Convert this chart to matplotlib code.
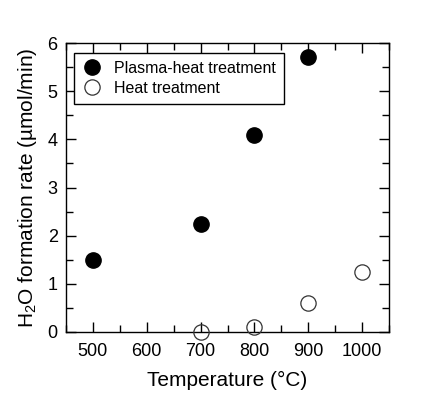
import matplotlib
matplotlib.use("Agg")
import matplotlib.pyplot as plt
from matplotlib.ticker import MultipleLocator

plt.rcParams['font.family'] = ['Liberation Sans', 'DejaVu Sans']
plt.rcParams['mathtext.fontset'] = 'custom'
plt.rcParams['mathtext.rm'] = 'Liberation Sans'
plt.rcParams['mathtext.it'] = 'Liberation Sans'

plasma_T = [500, 700, 800, 900]
plasma_rate = [1.5, 2.25, 4.1, 5.7]
heat_T = [700, 800, 900, 1000]
heat_rate = [0.0, 0.1, 0.6, 1.25]

fig = plt.figure(figsize=(4.32, 3.95), dpi=100)
ax = fig.add_axes([66/432, 1-332/395, (389-66)/432, (332-43)/395])

ax.plot(plasma_T, plasma_rate, 'o', color='black', markersize=11, clip_on=False,
        label='Plasma-heat treatment', zorder=3)
ax.plot(heat_T, heat_rate, 'o', markerfacecolor='none', markeredgecolor='#333333',
        markeredgewidth=0.9, markersize=11, clip_on=False, label='Heat treatment', zorder=3)

ax.set_xlim(450, 1050)
ax.set_ylim(0, 6)
ax.xaxis.set_major_locator(MultipleLocator(100))
ax.xaxis.set_minor_locator(MultipleLocator(50))
ax.yaxis.set_major_locator(MultipleLocator(1))
ax.yaxis.set_minor_locator(MultipleLocator(0.5))
ax.tick_params(which='both', direction='in', top=True, right=True, width=1, labelsize=13)
ax.tick_params(which='major', length=7.5)
ax.tick_params(which='minor', length=5)
ax.tick_params(axis='x', which='major', pad=8)
ax.tick_params(axis='y', which='major', pad=6)
for s in ax.spines.values():
    s.set_linewidth(1)

ax.set_xlabel('Temperature (°C)', fontsize=15, labelpad=8)
ax.set_ylabel(r'H$_2$O formation rate (µmol/min)', fontsize=15, labelpad=6)

leg = ax.legend(loc='upper left', bbox_to_anchor=(8/323, 1-10/289), fontsize=11.5, frameon=True,
                fancybox=False, edgecolor='black', framealpha=1, handletextpad=0.7,
                borderpad=0.5, labelspacing=0.3, handlelength=1.3, borderaxespad=0)
leg.get_frame().set_linewidth(1)

fig.savefig('out.png', dpi=100)
